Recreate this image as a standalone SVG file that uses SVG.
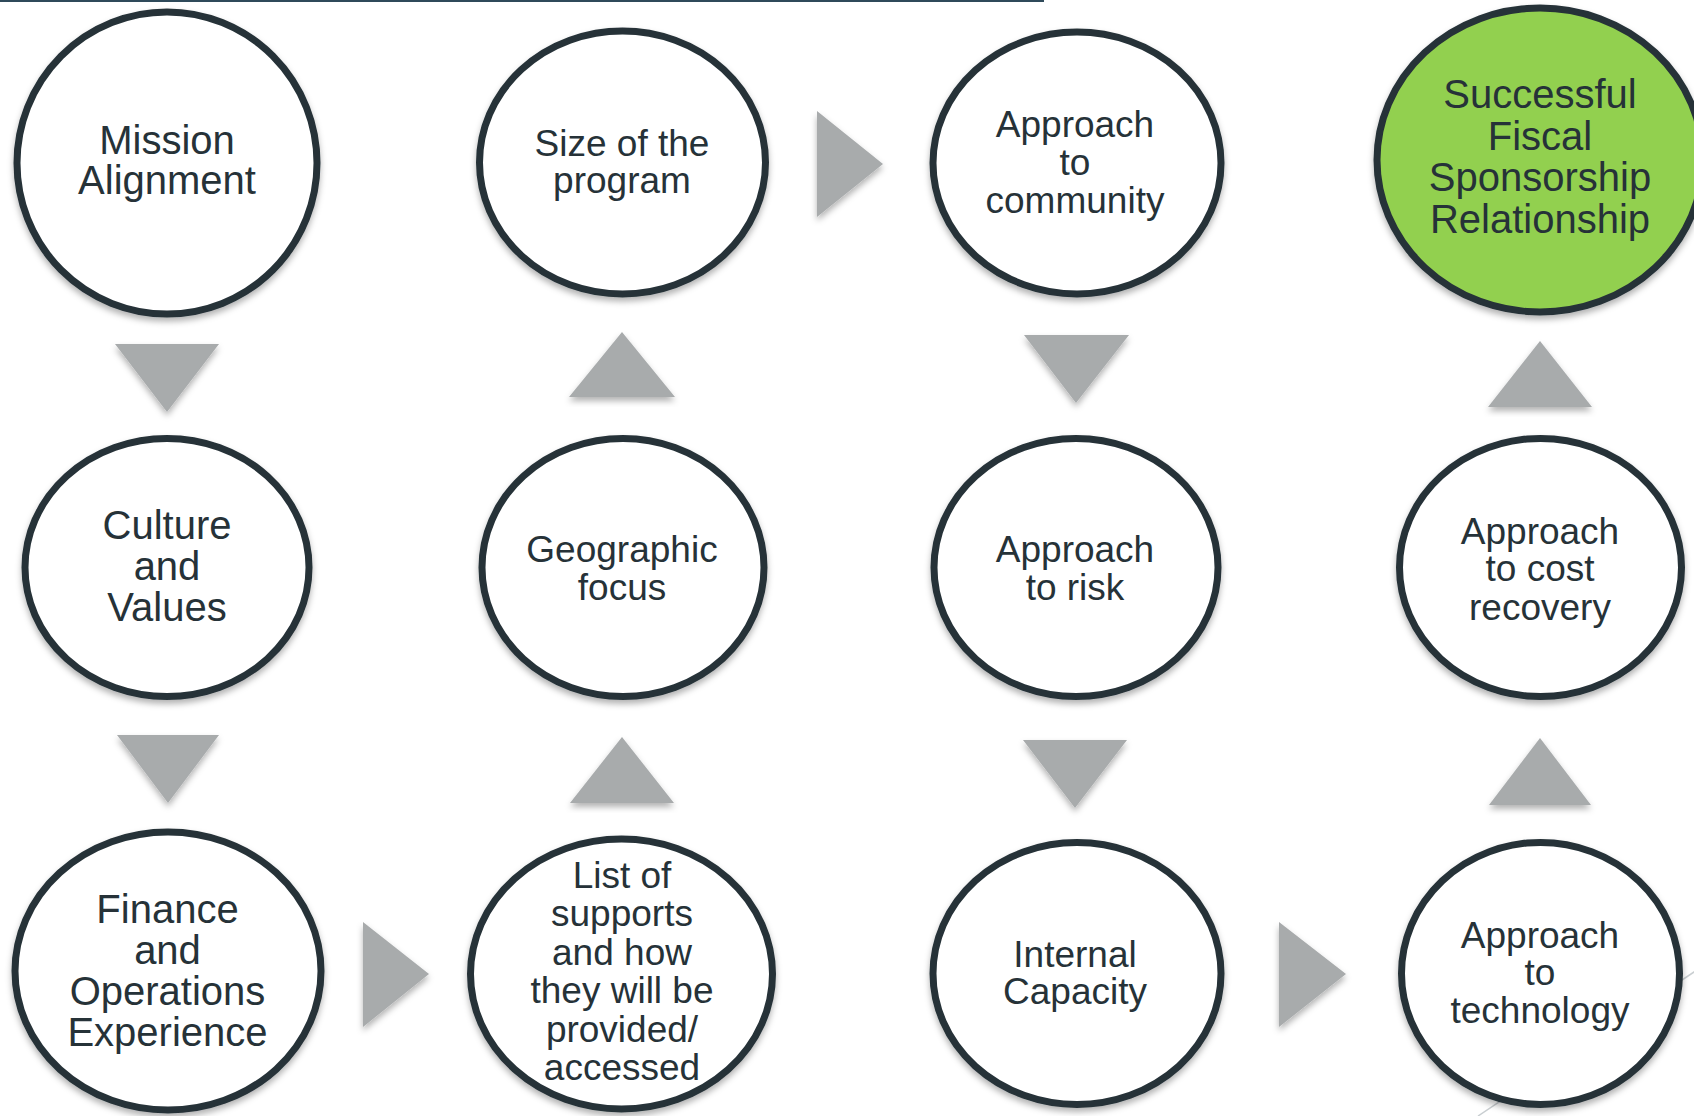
<svg xmlns="http://www.w3.org/2000/svg" width="1694" height="1116" viewBox="0 0 1694 1116">
  <defs>
    <filter id="soft" x="-10%" y="-10%" width="120%" height="125%">
      <feDropShadow dx="0" dy="4" stdDeviation="3" flood-color="#000" flood-opacity="0.3"/>
    </filter>
    <style>
      .node ellipse { fill: #ffffff; stroke: #263238; stroke-width: 7; filter: url(#soft); }
      .goal ellipse { fill: #92d050; }
      .node text { font-family: "Liberation Sans", Arial, sans-serif; fill: #263238; text-anchor: middle; }
      .lg { font-size: 40px; }
      .sm { font-size: 37px; }
      .arrow { fill: #a8abac; filter: url(#soft); }
    </style>
  </defs>
  <rect width="1694" height="1116" fill="#ffffff"/>
  <!-- header rule and faint slide line -->
  <line x1="0" y1="1" x2="1044" y2="1" stroke="#2f4a5a" stroke-width="2"/>
  <line x1="1700" y1="968" x2="1478" y2="1116" stroke="#c9ced1" stroke-width="1.5"/>

  <g id="connectors">
    <polygon class="arrow" points="115,344 219,344 167,412"/>
    <polygon class="arrow" points="117,735 219,735 168,803"/>
    <polygon class="arrow" points="363,922 429,974 363,1027"/>
    <polygon class="arrow" points="622,737 674,803 570,803"/>
    <polygon class="arrow" points="622,332 675,397 569,397"/>
    <polygon class="arrow" points="817,111 883,164 817,217"/>
    <polygon class="arrow" points="1024,335 1129,335 1076,403"/>
    <polygon class="arrow" points="1023,740 1127,740 1075,808"/>
    <polygon class="arrow" points="1279,922 1346,974 1279,1027"/>
    <polygon class="arrow" points="1540,738 1591,805 1489,805"/>
    <polygon class="arrow" points="1540,341 1592,407 1488,407"/>
  </g>

  <g id="mission-alignment" class="node">
    <ellipse cx="167" cy="163" rx="150" ry="151"/>
    <text class="lg" x="167" y="154">Mission</text>
    <text class="lg" x="167" y="194">Alignment</text>
  </g>
  <g id="culture-values" class="node">
    <ellipse cx="167" cy="567.5" rx="142" ry="129"/>
    <text class="lg" x="167" y="539">Culture</text>
    <text class="lg" x="167" y="580">and</text>
    <text class="lg" x="167" y="621">Values</text>
  </g>
  <g id="finance-operations" class="node">
    <ellipse cx="168" cy="971" rx="153" ry="139"/>
    <text class="lg" x="167.5" y="923">Finance</text>
    <text class="lg" x="167.5" y="964">and</text>
    <text class="lg" x="167.5" y="1005">Operations</text>
    <text class="lg" x="167.5" y="1046">Experience</text>
  </g>
  <g id="list-of-supports" class="node">
    <ellipse cx="621.5" cy="974" rx="151" ry="135"/>
    <text class="sm" x="622" y="888">List of</text>
    <text class="sm" x="622" y="926">supports</text>
    <text class="sm" x="622" y="965">and how</text>
    <text class="sm" x="622" y="1003">they will be</text>
    <text class="sm" x="622" y="1042">provided/</text>
    <text class="sm" x="622" y="1080">accessed</text>
  </g>
  <g id="geographic-focus" class="node">
    <ellipse cx="623" cy="567.5" rx="141" ry="129"/>
    <text class="sm" x="622" y="562">Geographic</text>
    <text class="sm" x="622" y="600">focus</text>
  </g>
  <g id="program-size" class="node">
    <ellipse cx="622.5" cy="162.5" rx="143" ry="131.5"/>
    <text class="sm" x="622" y="156">Size of the</text>
    <text class="sm" x="622" y="193">program</text>
  </g>
  <g id="approach-community" class="node">
    <ellipse cx="1077" cy="163" rx="144" ry="131"/>
    <text class="sm" x="1075" y="137">Approach</text>
    <text class="sm" x="1075" y="175">to</text>
    <text class="sm" x="1075" y="213">community</text>
  </g>
  <g id="approach-risk" class="node">
    <ellipse cx="1076" cy="567.5" rx="142" ry="129"/>
    <text class="sm" x="1075" y="562">Approach</text>
    <text class="sm" x="1075" y="600">to risk</text>
  </g>
  <g id="internal-capacity" class="node">
    <ellipse cx="1077" cy="973.5" rx="144" ry="131"/>
    <text class="sm" x="1075" y="967">Internal</text>
    <text class="sm" x="1075" y="1004">Capacity</text>
  </g>
  <g id="approach-technology" class="node">
    <ellipse cx="1540.5" cy="973.5" rx="139" ry="131"/>
    <text class="sm" x="1540" y="948">Approach</text>
    <text class="sm" x="1540" y="985">to</text>
    <text class="sm" x="1540" y="1023">technology</text>
  </g>
  <g id="approach-cost-recovery" class="node">
    <ellipse cx="1540.5" cy="567.5" rx="141" ry="129"/>
    <text class="sm" x="1540" y="544">Approach</text>
    <text class="sm" x="1540" y="581">to cost</text>
    <text class="sm" x="1540" y="620">recovery</text>
  </g>
  <g id="successful-relationship" class="node goal">
    <ellipse cx="1540" cy="160" rx="163" ry="152"/>
    <text class="lg" x="1540" y="108">Successful</text>
    <text class="lg" x="1540" y="150">Fiscal</text>
    <text class="lg" x="1540" y="191">Sponsorship</text>
    <text class="lg" x="1540" y="233">Relationship</text>
  </g>
</svg>
